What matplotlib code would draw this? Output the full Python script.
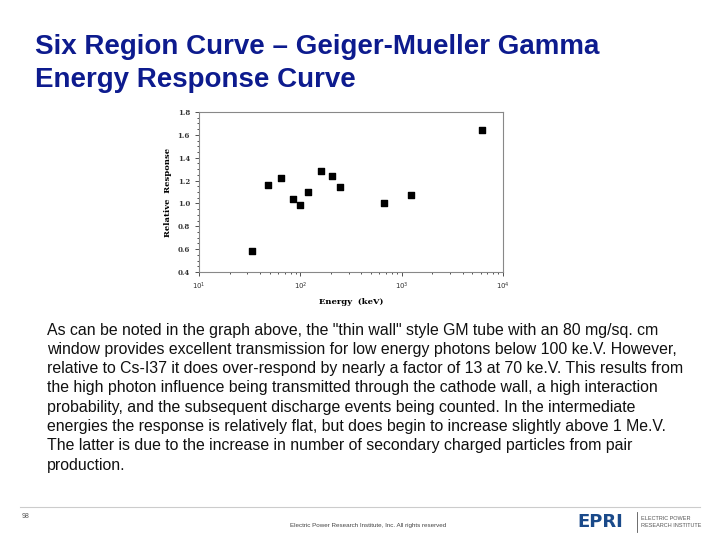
import numpy as np
import matplotlib.pyplot as plt
from matplotlib.ticker import FixedLocator, MultipleLocator, LogLocator, NullFormatter

# data
energy_kev = [33, 47.7, 65, 84, 100, 119, 161, 205, 248, 662, 1250, 6250]
rel_response = [0.58, 1.16, 1.22, 1.04, 0.99, 1.10, 1.285, 1.24, 1.147, 1.0, 1.07, 1.645]

y_ticks = [0.4, 0.6, 0.8, 1.0, 1.2, 1.4, 1.6, 1.8]
x_ticks = [10, 100, 1000, 10000]
x_tick_labels = ["$10^1$", "$10^2$", "$10^3$", "$10^4$"]

title_lines = ["Six Region Curve \u2013 Geiger-Mueller Gamma", "Energy Response Curve"]
body_lines = [
    "As can be noted in the graph above, the \"thin wall\" style GM tube with an 80 mg/sq. cm",
    "window provides excellent transmission for low energy photons below 100 ke.V. However,",
    "relative to Cs-I37 it does over-respond by nearly a factor of 13 at 70 ke.V. This results from",
    "the high photon influence being transmitted through the cathode wall, a high interaction",
    "probability, and the subsequent discharge events being counted. In the intermediate",
    "energies the response is relatively flat, but does begin to increase slightly above 1 Me.V.",
    "The latter is due to the increase in number of secondary charged particles from pair",
    "production.",
]

fig = plt.figure(figsize=(7.2, 5.4), dpi=100)
W, H = 720, 540

# slide title
navy = "#0d1b8e"
for i, line in enumerate(title_lines):
    fig.text(35 / W, 1 - (47 + 33 * i) / H, line, fontsize=20, fontweight="bold",
             color=navy, family="Liberation Sans", va="center", ha="left")

# chart
ax = fig.add_axes([199 / W, 1 - 272 / H, 304 / W, 160 / H])
ax.scatter(energy_kev, rel_response, marker="s", s=14, color="black", zorder=3)
ax.set_xscale("log")
ax.set_xlim(10, 10000)
ax.set_ylim(0.4, 1.8)
ax.xaxis.set_major_locator(FixedLocator(x_ticks))
ax.set_xticklabels(x_tick_labels)
ax.xaxis.set_minor_locator(LogLocator(base=10, subs=np.arange(2, 10)))
ax.xaxis.set_minor_formatter(NullFormatter())
ax.yaxis.set_major_locator(FixedLocator(y_ticks))
ax.set_yticklabels([f"{v:.1f}" for v in y_ticks])
ax.yaxis.set_minor_locator(MultipleLocator(0.05))
ax.tick_params(which="both", direction="out", labelsize=5, colors="#333333", width=0.6)
ax.tick_params(which="major", length=3)
ax.tick_params(which="minor", length=1.5)
for lbl in ax.get_xticklabels() + ax.get_yticklabels():
    lbl.set_family("DejaVu Serif")
    lbl.set_fontweight("bold")
for sp in ax.spines.values():
    sp.set_color("#888888")
    sp.set_linewidth(0.8)
ax.set_xlabel("Energy  (keV)", fontsize=6, family="DejaVu Serif", fontweight="bold", labelpad=4)
ax.set_ylabel("Relative  Response", fontsize=6, family="DejaVu Serif", fontweight="bold", labelpad=4)

# body paragraph
for i, line in enumerate(body_lines):
    fig.text(47 / W, 1 - (330 + 19.3 * i) / H, line, fontsize=11.4,
             family="Liberation Sans", color="#111111", va="center", ha="left")

# footer
fig.add_artist(plt.Line2D([20 / W, 700 / W], [1 - 507 / H, 1 - 507 / H], color="#cccccc", lw=0.8))
fig.text(22 / W, 1 - 517 / H, "98", fontsize=5, color="#555555", family="Liberation Sans", va="center")
fig.text(368 / W, 1 - 526 / H, "Electric Power Research Institute, Inc. All rights reserved",
         fontsize=4.5, color="#444444", family="Liberation Sans", va="center", ha="center")
fig.text(577 / W, 1 - 522 / H, "EPRI", fontsize=13, fontweight="bold", color="#1a4a8a",
         family="DejaVu Sans", va="center", ha="left")
fig.add_artist(plt.Line2D([637 / W, 637 / W], [1 - 512 / H, 1 - 532 / H], color="#555555", lw=0.6))
fig.text(641 / W, 1 - 522 / H, "ELECTRIC POWER\nRESEARCH INSTITUTE", fontsize=4,
         color="#555555", family="Liberation Sans", va="center", ha="left", linespacing=1.3)

fig.savefig("out.png", dpi=100)
